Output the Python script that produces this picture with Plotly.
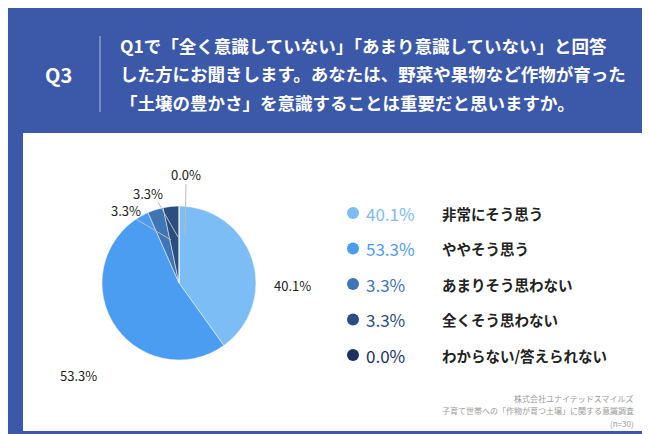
import plotly.graph_objects as go

labels = ["非常にそう思う", "ややそう思う", "あまりそう思わない", "全くそう思わない", "わからない/答えられない"]
values = [40.1, 53.3, 3.3, 3.3, 0.0]
colors = ["#7dbdf5", "#4a9df0", "#3f74b5", "#2b4d80", "#1b3160"]
W, H = 650, 434
BG = "#3c58a8"

def px(x): return x / W
def py(y): return 1 - y / H

fig = go.Figure()
fig.add_trace(go.Pie(values=values, labels=labels, sort=False, direction="clockwise", rotation=0,
                     marker=dict(colors=colors, line=dict(color="white", width=0.5)),
                     textinfo="none", showlegend=False, hoverinfo="skip",
                     domain=dict(x=[px(94), px(248)], y=[py(352), py(198)])))

shapes = [
    dict(type="rect", xref="paper", yref="paper", x0=px(15), x1=px(635), y0=py(423), y1=py(125),
         fillcolor="white", line=dict(width=0), layer="below"),
    dict(type="line", xref="paper", yref="paper", x0=px(92), x1=px(92), y0=py(28), y1=py(104),
         line=dict(color="rgba(255,255,255,0.6)", width=1)),
]
ann = []
ann.append(dict(x=px(50), y=py(66), text="<b>Q3</b>", font=dict(size=20, color="white")))
title = ["Q1で「全く意識していない」「あまり意識していない」と回答",
         "した方にお聞きします。あなたは、野菜や果物など作物が育った",
         "「土壌の豊かさ」を意識することは重要だと思いますか。"]
for i, t in enumerate(title):
    ann.append(dict(x=px(110), y=py(37 + 28.5 * i), text=f"<b>{t}</b>", xanchor="left",
                    font=dict(size=17.5, color="white")))
lab_pos = [(284, 277), (70, 367), (118, 202), (140, 185), (178, 167)]
ends = [None, None, (163, 232), (170, 229), (177, 227)]
for i, v in enumerate(values):
    x, y = lab_pos[i]
    ann.append(dict(x=px(x), y=py(y), text=f"{v:.1f}%", font=dict(size=13, color="#222")))
    if ends[i]:
        shapes.append(dict(type="line", xref="paper", yref="paper", x0=px(x + 10 if i < 4 else x),
                           y0=py(y + 9), x1=px(ends[i][0]), y1=py(ends[i][1]),
                           line=dict(color="#bbb", width=1)))
for i, (l, v, c) in enumerate(zip(labels, values, colors)):
    y = 205 + 35.5 * i
    shapes.append(dict(type="circle", xref="paper", yref="paper", x0=px(339), x1=px(351),
                       y0=py(y + 6), y1=py(y - 6), fillcolor=c, line=dict(width=0)))
    ann.append(dict(x=px(356), y=py(y), text=f"{v:.1f}%", xanchor="left", font=dict(size=17, color=c)))
    ann.append(dict(x=px(432), y=py(y), text=f"<b>{l}</b>", xanchor="left", font=dict(size=14.5, color="#222")))
for i, t in enumerate(["株式会社ユナイテッドスマイルズ", "子育て世帯への「作物が育つ土壌」に関する意識調査", "(n=30)"]):
    ann.append(dict(x=px(628), y=py(390 + 12.5 * i), text=t, xanchor="right", font=dict(size=8, color="#999")))
for a in ann:
    a.update(xref="paper", yref="paper", showarrow=False)
    a.setdefault("xanchor", "center")
    a["yanchor"] = "middle"

fig.update_layout(width=W, height=H, margin=dict(l=0, r=0, t=0, b=0), paper_bgcolor=BG,
                  plot_bgcolor=BG, shapes=shapes, annotations=ann,
                  font=dict(family="Noto Sans CJK JP"))
fig.write_html("out.html")
